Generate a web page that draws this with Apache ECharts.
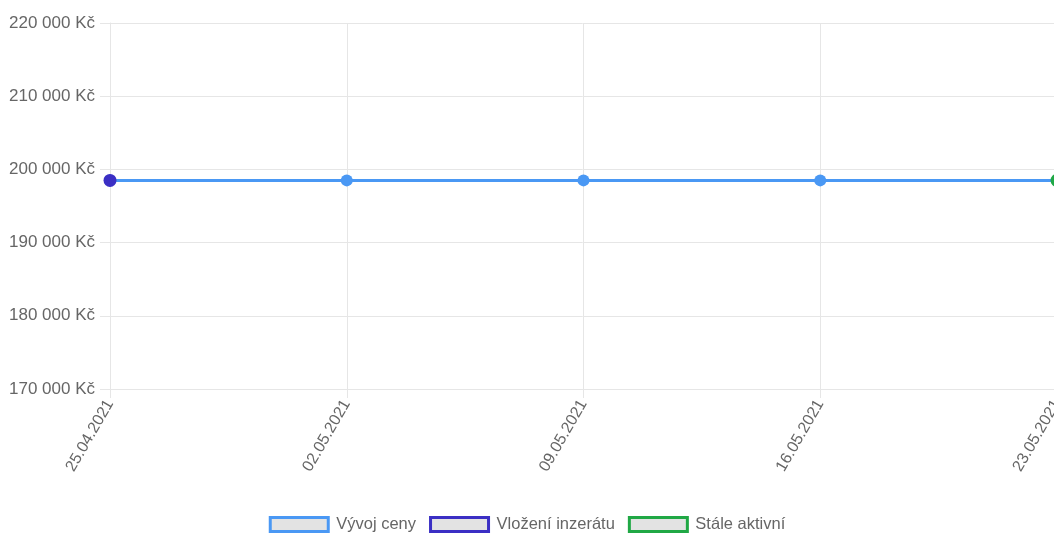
<!DOCTYPE html>
<html>
<head>
<meta charset="utf-8">
<style>
  html, body { margin: 0; padding: 0; background: #fff; }
  #chart { width: 1054px; height: 536px; }
</style>
<script src="https://cdn.jsdelivr.net/npm/echarts@6/dist/echarts.min.js"></script>
</head>
<body>
<div id="chart"></div>
<script>
// Price history of the listing
const dates = ['25.04.2021', '02.05.2021', '09.05.2021', '16.05.2021', '23.05.2021'];
const priceHistory = [198500, 198500, 198500, 198500, 198500];
const listingAdded = [198500, null, null, null, null];
const stillActive = [null, null, null, null, 198500];

const seriesNames = ['Vývoj ceny', 'Vložení inzerátu', 'Stále aktivní'];
const seriesColors = ['#4a98f4', '#3b2fc4', '#20a845'];

const yMin = 170000, yMax = 220000, yStep = 10000;

function formatCzk(v) {
  return String(Math.round(v)).replace(/\B(?=(\d{3})+(?!\d))/g, ' ') + ' Kč';
}

const chart = echarts.init(document.getElementById('chart'));
const gridColor = '#e6e6e6';
const fontFamily = 'Liberation Sans, Arial, sans-serif';

chart.setOption({
  animation: false,
  // the plot runs slightly past the right edge, so the last point is cut
  grid: { left: 110, top: 23, width: 947, height: 366, outerBoundsMode: 'none' },
  legend: {
    top: 511,
    left: 'center',
    itemWidth: 58,
    itemHeight: 14,
    itemGap: 13,
    textStyle: { color: '#666', fontFamily: fontFamily, fontSize: 16.5, padding: [0, 0, 0, 3] },
    data: seriesNames.map((n, i) => ({
      name: n,
      icon: 'rect',
      itemStyle: { color: '#e3e3e3', borderColor: seriesColors[i], borderWidth: 3 }
    }))
  },
  xAxis: {
    type: 'category',
    data: dates,
    boundaryGap: false,
    axisLine: { show: true, lineStyle: { color: gridColor } },
    axisTick: { show: true, length: 9, lineStyle: { color: gridColor } },
    splitLine: { show: true, lineStyle: { color: gridColor } },
    axisLabel: { rotate: 60, margin: 12, showMaxLabel: true, interval: 0,
                 color: '#666', fontFamily: fontFamily, fontSize: 16 }
  },
  yAxis: {
    type: 'value',
    min: yMin,
    max: yMax,
    interval: yStep,
    axisLine: { show: true, lineStyle: { color: gridColor } },
    axisTick: { show: true, length: 10, lineStyle: { color: gridColor } },
    splitLine: { show: true, lineStyle: { color: gridColor } },
    axisLabel: { formatter: formatCzk, margin: 15,
                 color: '#666', fontFamily: fontFamily, fontSize: 17 }
  },
  series: [
    {
      name: seriesNames[0],
      type: 'line',
      data: priceHistory,
      symbol: 'circle',
      symbolSize: 12,
      lineStyle: { color: seriesColors[0], width: 3 },
      itemStyle: { color: seriesColors[0] },
      z: 2
    },
    {
      name: seriesNames[1],
      type: 'line',
      data: listingAdded,
      symbol: 'circle',
      symbolSize: 13,
      lineStyle: { color: seriesColors[1], width: 3 },
      itemStyle: { color: seriesColors[1] },
      z: 3
    },
    {
      name: seriesNames[2],
      type: 'line',
      data: stillActive,
      symbol: 'circle',
      symbolSize: 13,
      lineStyle: { color: seriesColors[2], width: 3 },
      itemStyle: { color: seriesColors[2] },
      z: 3
    }
  ]
});
</script>
</body>
</html>
